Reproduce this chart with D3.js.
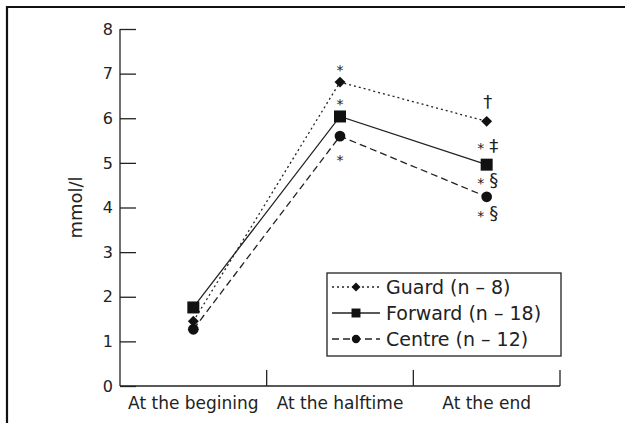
<!DOCTYPE html>
<html>
<head>
<meta charset="utf-8">
<script src="https://cdn.jsdelivr.net/npm/d3@7"></script>
<style>
  html, body { margin: 0; padding: 0; background: #fff; }
  svg { display: block; }
  text { font-family: "DejaVu Sans", sans-serif; fill: #222; }
</style>
</head>
<body>
<svg id="chart" width="625" height="423"></svg>
<script>
// Blood lactate (mmol/l) by playing position across the match
const categories = ["At the begining", "At the halftime", "At the end"];
const guard   = [1.45, 6.81, 5.93];
const forward = [1.76, 6.04, 4.96];
const centre  = [1.27, 5.60, 4.24];
const yTicks  = [0, 1, 2, 3, 4, 5, 6, 7, 8];
const seriesNames = ["Guard (n – 8)", "Forward (n – 18)", "Centre (n – 12)"];

// significance marks: category index, vertical position (mmol/l), text
const markCats   = [1, 1, 1, 2, 2, 2, 2];
const markLevels = [7.15, 6.39, 5.13, 6.37, 5.40, 4.62, 3.88];
const markStars  = ["*", "*", "*", "", "*", "*", "*"];
const markSymbols = ["", "", "", "†", "‡", "§", "§"];

const svg = d3.select("#chart");
const ink = "#222";

// outer frame (top and left edges)
svg.append("path")
  .attr("d", "M7,423 V7 H625")
  .attr("fill", "none").attr("stroke", "#111").attr("stroke-width", 2.2);

const x = d3.scaleBand().domain(categories).range([120, 560]);
const y = d3.scaleLinear().domain([0, 8]).range([386, 29]);
const cx = c => x(c) + x.bandwidth() / 2;

// y axis with inward ticks
const yAxis = d3.axisLeft(y).tickValues(yTicks).tickSize(-16).tickPadding(7).tickFormat(d3.format("d"));
const gy = svg.append("g").attr("transform", "translate(120,0)").call(yAxis);
gy.select(".domain").attr("d", `M0,${y(8)}V${y(0)}`);
gy.selectAll("line, path").attr("stroke", ink).attr("stroke-width", 1.3);
gy.selectAll("text").attr("font-size", 16).attr("fill", ink);

// x axis: ticks on band edges pointing up, labels at band centres
const gx = svg.append("g").attr("transform", `translate(0,${y(0)})`);
gx.append("line").attr("x1", 120).attr("x2", 560).attr("stroke", ink).attr("stroke-width", 1.3);
const edges = categories.map(c => x(c) + x.bandwidth());
gx.selectAll("line.edge").data(edges).join("line").attr("class", "edge")
  .attr("x1", d => d).attr("x2", d => d).attr("y1", 0).attr("y2", -16)
  .attr("stroke", ink).attr("stroke-width", 1.3);
gx.selectAll("text").data(categories).join("text")
  .attr("x", d => cx(d)).attr("y", 23)
  .attr("text-anchor", "middle").attr("font-size", 17)
  .text(d => d);

// y axis title
svg.append("text")
  .attr("transform", `translate(82,${(y(0) + y(8)) / 2}) rotate(-90)`)
  .attr("text-anchor", "middle").attr("font-size", 18)
  .text("mmol/l");

const diamond = { draw(ctx, size) { const s = Math.sqrt(size) / 2;
  ctx.moveTo(0, -s); ctx.lineTo(s, 0); ctx.lineTo(0, s); ctx.lineTo(-s, 0); ctx.closePath(); } };

const series = [
  { name: seriesNames[0], values: guard,   dash: "2,3", sym: diamond,          size: 120, legSize: 80 },
  { name: seriesNames[1], values: forward, dash: null,  sym: d3.symbolSquare,  size: 144, legSize: 80 },
  { name: seriesNames[2], values: centre,  dash: "7,4", sym: d3.symbolCircle,  size: 90,  legSize: 55 }
];

const line = d3.line().x((d, i) => cx(categories[i])).y(d => y(d));

series.forEach(s => {
  svg.append("path").datum(s.values)
    .attr("d", line).attr("fill", "none")
    .attr("stroke", ink).attr("stroke-width", 1.3)
    .attr("stroke-dasharray", s.dash);
  svg.selectAll(null).data(s.values).join("path")
    .attr("transform", (d, i) => `translate(${cx(categories[i])},${y(d)})`)
    .attr("d", d3.symbol().type(s.sym).size(s.size))
    .attr("fill", "#111");
});

// significance marks: asterisks plus dagger / double dagger / section signs
markCats.forEach((c, i) => {
  const px = cx(categories[c]);
  const py = y(markLevels[i]);
  const hasSym = markSymbols[i] !== "";
  if (markStars[i]) {
    svg.append("text")
      .attr("x", hasSym ? px - 6 : px).attr("y", py + 8)
      .attr("text-anchor", "middle").attr("font-size", 14).attr("fill", "#111")
      .text(markStars[i]);
  }
  if (hasSym) {
    svg.append("text")
      .attr("x", markStars[i] ? px + 7 : px + 1).attr("y", py)
      .attr("dy", "0.36em")
      .attr("text-anchor", "middle").attr("font-size", 18).attr("fill", "#111")
      .text(markSymbols[i]);
  }
});

// legend
const lg = svg.append("g");
lg.append("rect").attr("x", 327).attr("y", 273).attr("width", 234).attr("height", 83)
  .attr("fill", "#fff").attr("stroke", ink).attr("stroke-width", 1.3);
series.forEach((s, i) => {
  const ly = 287 + i * 26;
  lg.append("line").attr("x1", 332).attr("x2", 380).attr("y1", ly).attr("y2", ly)
    .attr("stroke", ink).attr("stroke-width", 1.3).attr("stroke-dasharray", s.dash);
  lg.append("path").attr("transform", `translate(356,${ly})`)
    .attr("d", d3.symbol().type(s.sym).size(s.legSize)).attr("fill", "#111");
  lg.append("text").attr("x", 386).attr("y", ly).attr("dy", "0.36em")
    .attr("font-size", 19).text(s.name);
});
</script>
</body>
</html>
